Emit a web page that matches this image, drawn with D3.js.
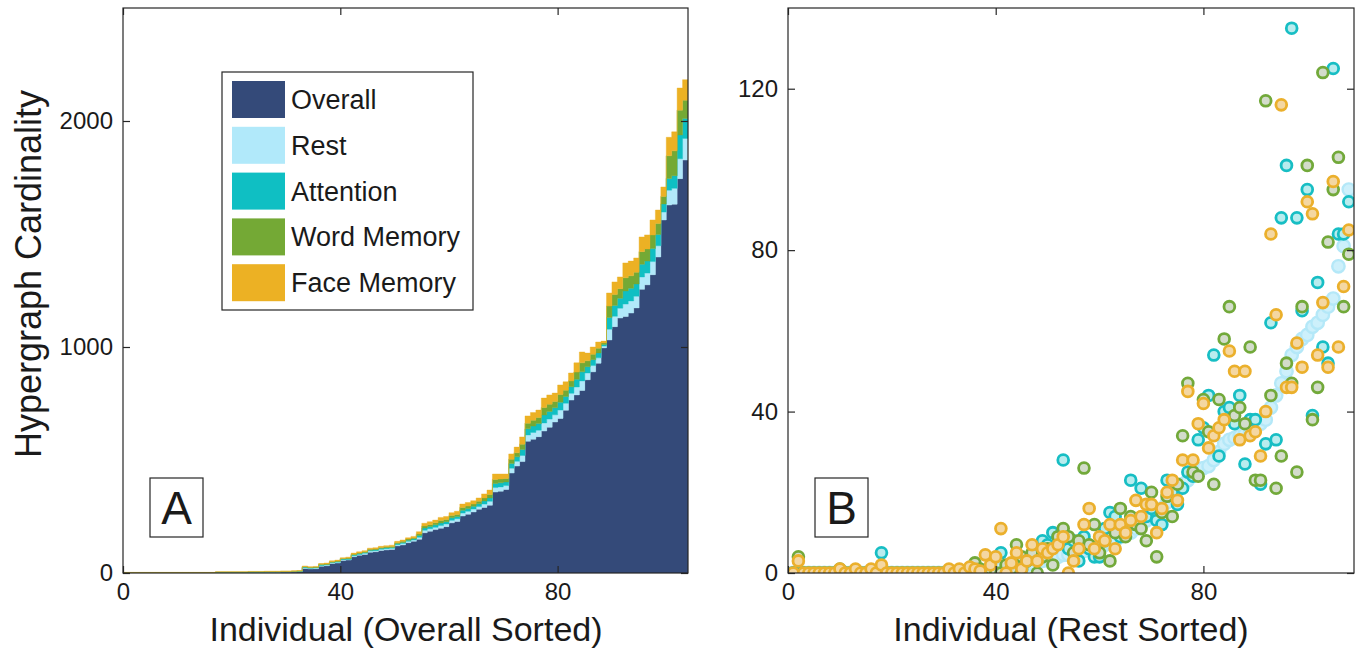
<!DOCTYPE html>
<html>
<head>
<meta charset="utf-8">
<script src="https://cdn.jsdelivr.net/npm/d3@7"></script>
<style>
	body { margin: 0; background: #fff; }
	text { font-family: "Liberation Sans", Arial, Helvetica, sans-serif; fill: #1a1a1a; }
</style>
</head>
<body>
<svg id="chart" width="1361" height="648"></svg>
<script>
// ---- panel A : stacked cardinality, individuals sorted by overall ----
var overallA = [0,0,0,0,0,0,0,0,0,0,
	0,0,0,0,0,0,0,1,1,1,
	1,1,1,2,2,2,3,3,3,4,
	4,5,6,20,18,19,30,32,42,44,
	55,57,72,78,82,92,94,100,102,104,
	120,124,134,140,149,178,185,192,198,205,
	222,228,252,260,270,282,290,300,358,362,
	370,442,473,493,583,592,603,628,645,668,
	684,720,765,788,808,855,890,928,996,1031,
	1090,1128,1135,1150,1173,1255,1275,1320,1398,1562,
	1628,1632,1745,1827];
var restA = [1,1,1,1,1,1,1,1,1,1,1,1,1,1,1,1,1,1,1,1,1,1,1,1,1,1,1,1,1,1,1,1,1,
	3,3,3,3,3,3,4,4,3,4,4,5,5,5,5,5,5,5,6,6,6,
	9,11,11,10,12,12,11,12,13,13,13,12,15,17,
	20,19,17,22,21,27,28,30,29,36,36,32,
	37,31,30,35,42,30,28,24,8,48,
	46,44,55,54,52,55,52,58,50,35,66,70,88,96];
var attentionA = [0.5,0.5,0.5,0.5,0.5,0.5,0.5,0.5,0.5,0.5,0.5,0.5,0.5,0.5,0.5,0.5,0.5,1,1,1,1,1,1,1,1,1,1,1,1,1,1,1,1,
	3,2,2,3,3,3,3,3,3,4,4,4,4,4,4,5,4,5,5,5,5,
	8,10,10,11,11,10,11,10,13,12,12,12,14,15,
	18,18,16,20,20,26,27,28,29,35,34,31,
	35,30,29,34,40,28,26,22,7,52,
	48,44,58,56,54,56,53,58,50,36,52,56,105,88];
var wordA = [0.5,0.5,0.5,0.5,0.5,0.5,0.5,0.5,0.5,0.5,0.5,0.5,0.5,0.5,0.5,0.5,0.5,1,1,1,1,1,1,1,1,1,1,1,1,1,1,1,1,
	2,2,2,3,2,2,2,2,3,3,3,3,4,3,4,4,4,4,5,5,4,
	7,9,8,9,11,10,10,9,12,11,10,11,13,15,
	18,17,15,19,18,24,25,26,27,33,32,28,
	34,28,26,32,40,26,24,21,7,50,
	48,42,58,55,52,56,54,60,48,33,100,110,110,81];
var faceA = [1,1,1,1,1,1,1,1,1,1,1,1,1,1,1,1,1,2,2,2,2,2,2,2,2,2,2,2,2,2,2,2,2,
	3,3,3,3,4,4,4,4,4,5,5,5,5,6,5,5,6,6,6,6,7,
	10,12,13,12,14,13,13,14,15,16,15,15,18,20,
	24,22,20,24,25,32,32,34,33,42,41,37,
	42,37,35,41,48,34,32,27,8,58,
	56,52,66,65,63,65,62,66,60,42,82,84,98,91];

// ---- panel B : per-task cardinality, individuals sorted by rest ----
var restB = [0,0,0,0,0,0,0,0,0,0,0,0,0,0,0,0,0,0,0,0,0,0,0,0,0,0,0,0,0,0,0,0,0,0,0,0,0,0,0,
	0.5,1,1,1.5,1.5,2,2,2.5,3,3,3.5,4,4,4.5,4.5,5,5,5.5,6,6,
	6.5,7,7.5,8,9,9.5,10,11,12,13,14,15,16,17.5,19,20.5,22,23,24.5,25.5,
	26,26.5,28,30,32,33,33.5,34,34.5,35,36,37,38,41,44,47,50,54,56,58,
	59,61,62,64,66,68,76,81,95];
var attentionB = [0,0,0,0,0,0,0,0,0,0,0,0,0,0,0,0,0,5,0,0,0,0,0,0,0,0,0,0,0,0,0,0,0,0,0,0,0,0,0,
	0,5,1,0,2,1,3,4,6,8,7,10,9,28,6,8,3,9,6,4,
	4,11,15,14,9,10,23,12,21,14,16,13,12,23,20,17,21,25,24,33,
	36,44,54,29,40,41,37,44,27,38,38,22,32,62,33,88,101,135,88,65,
	95,39,72,56,52,125,84,84,92];
var wordB = [0,4,0,0,0,0,0,0,0,1,0,0,0,0,0,0,0,0,0,0,0,0,0,0,0,0,0,0,0,0,0,0,0,0,0,
	2.5,1,0,1,0,0,2,1,7,4,3,5,0,4,6,2,9,11,9,5,8,26,7,12,5,
	8,3,10,16,9,14,12,11,8,20,4,15,19,14,22,34,47,25,24,43,
	35,22,43,58,66,39,41,37,56,23,23,117,44,21,29,52,47,25,66,101,
	38,46,124,82,95,103,66,79];
var faceB = [0,3,0,0,0,0,0,0,0,1,0,0,1,0,0,1,0,2,0,0,0,0,0,0,0,0,0,0,0,0,
	1,0,1,0,1.5,1,0.5,4.5,2,4,11,0,2.5,5,1,3,7,3,6,5,
	6,7,9,0,3,6,12,16,6,9,8,12,6,12,10,13,18,14,17,17,
	10,16,20,23,18,28,45,28,37,42,31,34,36,38,55,50,33,50,34,35,
	29,40,84,64,116,46,46,57,51,92,89,54,67,51,97,56,71,85];

var xTicksA = [0, 40, 80], yTicksA = [0, 1000, 2000];
var xTicksB = [0, 40, 80], yTicksB = [0, 40, 80, 120];

var layerKeys = ["overall", "rest", "attention", "word", "face"];
var layerNames = ["Overall", "Rest", "Attention", "Word Memory", "Face Memory"];
var layerColors = ["#344a79", "#b1e9fa", "#0fbfc3", "#74a935", "#ecb124"];

var markerStroke = { rest: "#b4e8f8", attention: "#17bec4", word: "#72a93a", face: "#ebb02c" };
var markerFill = { rest: "#cdf0fb", attention: "#b9ecee", word: "#d3dccb", face: "#f4d7a2" };

var svg = d3.select("#chart");
var axisColor = "#262626";

var plotTop = 8, plotBottom = 573;
var xA = d3.scaleLinear().domain([0, 104]).range([123, 688]);
var yA = d3.scaleLinear().domain([0, 2500]).range([plotBottom, plotTop]);
var xB = d3.scaleLinear().domain([0, 109]).range([788, 1354]);
var yB = d3.scaleLinear().domain([0, 140]).range([plotBottom, plotTop]);

function clip(id, x, y) {
	svg.append("clipPath").attr("id", id).append("rect")
		.attr("x", x.range()[0]).attr("y", y.range()[1])
		.attr("width", x.range()[1] - x.range()[0])
		.attr("height", y.range()[0] - y.range()[1]);
}
clip("clipA", xA, yA);
clip("clipB", xB, yB);

// stacked stairs for panel A
var rows = overallA.map(function(v, i) {
	return { i: i, overall: v, rest: restA[i], attention: attentionA[i], word: wordA[i], face: faceA[i] };
});
var last = rows[rows.length - 1];
rows.push(Object.assign({}, last, { i: rows.length }));

var stacked = d3.stack().keys(layerKeys)(rows);
var area = d3.area()
	.curve(d3.curveStepAfter)
	.x(function(d) { return xA(d.data.i); })
	.y0(function(d) { return yA(d[0]); })
	.y1(function(d) { return yA(d[1]); });

svg.append("g").attr("clip-path", "url(#clipA)")
	.selectAll("path").data(stacked).join("path")
	.attr("d", area)
	.attr("fill", function(d, i) { return layerColors[i]; })
	.attr("stroke", function(d, i) { return layerColors[i]; })
	.attr("stroke-width", 0.4);

// scatter for panel B
var seriesB = [
	{ key: "rest", values: restB, r: 6.2, sw: 2.4 },
	{ key: "attention", values: attentionB, r: 5.4, sw: 2.8 },
	{ key: "word", values: wordB, r: 5.4, sw: 2.8 },
	{ key: "face", values: faceB, r: 5.4, sw: 2.8 }
];
var gB = svg.append("g").attr("clip-path", "url(#clipB)");
seriesB.forEach(function(s) {
	gB.append("g").selectAll("circle").data(s.values).join("circle")
		.attr("cx", function(d, i) { return xB(i + 1); })
		.attr("cy", function(d) { return yB(d); })
		.attr("r", s.r)
		.attr("fill", markerFill[s.key])
		.attr("stroke", markerStroke[s.key])
		.attr("stroke-width", s.sw);
});

// axes, MATLAB style: box with inward ticks on all sides
function drawAxes(x, y, xt, yt) {
	var tick = 7;
	svg.append("g").attr("transform", "translate(0," + y.range()[0] + ")")
		.call(d3.axisBottom(x).tickValues(xt).tickFormat(d3.format("d")).tickSizeInner(-tick).tickSizeOuter(0).tickPadding(10))
		.call(styleAxis);
	svg.append("g").attr("transform", "translate(" + x.range()[0] + ",0)")
		.call(d3.axisLeft(y).tickValues(yt).tickFormat(d3.format("d")).tickSizeInner(-tick).tickSizeOuter(0).tickPadding(10))
		.call(styleAxis);
	svg.append("g").attr("transform", "translate(0," + y.range()[1] + ")")
		.call(d3.axisTop(x).tickValues(xt).tickSizeInner(-tick).tickSizeOuter(0).tickFormat(""))
		.call(styleAxis);
	svg.append("g").attr("transform", "translate(" + x.range()[1] + ",0)")
		.call(d3.axisRight(y).tickValues(yt).tickSizeInner(-tick).tickSizeOuter(0).tickFormat(""))
		.call(styleAxis);
	svg.append("rect")
		.attr("x", x.range()[0]).attr("y", y.range()[1])
		.attr("width", x.range()[1] - x.range()[0])
		.attr("height", y.range()[0] - y.range()[1])
		.attr("fill", "none").attr("stroke", axisColor).attr("stroke-width", 1.2);
}
function styleAxis(g) {
	g.select(".domain").remove();
	g.selectAll(".tick line").attr("stroke", axisColor).attr("stroke-width", 1.2);
	g.selectAll(".tick text").style("font-size", "24px").attr("fill", axisColor)
		.style("font-family", "'Liberation Sans', Arial, sans-serif");
}
drawAxes(xA, yA, xTicksA, yTicksA);
drawAxes(xB, yB, xTicksB, yTicksB);

// axis titles
svg.append("text").attr("x", 406).attr("y", 641).attr("text-anchor", "middle")
	.attr("font-size", 34).text("Individual (Overall Sorted)");
svg.append("text").attr("x", 1071).attr("y", 641).attr("text-anchor", "middle")
	.attr("font-size", 34).text("Individual (Rest Sorted)");
svg.append("text").attr("transform", "translate(41,274) rotate(-90)").attr("text-anchor", "middle")
	.attr("font-size", 36).text("Hypergraph Cardinality");

// legend
var legend = svg.append("g").attr("transform", "translate(222,72)");
legend.append("rect").attr("width", 251).attr("height", 238)
	.attr("fill", "#fff").attr("stroke", axisColor).attr("stroke-width", 1.2);
layerNames.forEach(function(name, i) {
	var row = legend.append("g").attr("transform", "translate(0," + (9 + i * 45.8) + ")");
	row.append("rect").attr("x", 10).attr("y", 0).attr("width", 53).attr("height", 37)
		.attr("fill", layerColors[i]);
	row.append("text").attr("x", 69).attr("y", 28).attr("font-size", 27).text(name);
});

// panel letters
function panelLabel(x, letter) {
	svg.append("rect").attr("x", x).attr("y", 478).attr("width", 53).attr("height", 59)
		.attr("fill", "#fff").attr("stroke", axisColor).attr("stroke-width", 1.2);
	svg.append("text").attr("x", x + 26.5).attr("y", 524).attr("text-anchor", "middle")
		.attr("font-size", 46).attr("fill", "#000").text(letter);
}
panelLabel(150, "A");
panelLabel(815, "B");
</script>
</body>
</html>
